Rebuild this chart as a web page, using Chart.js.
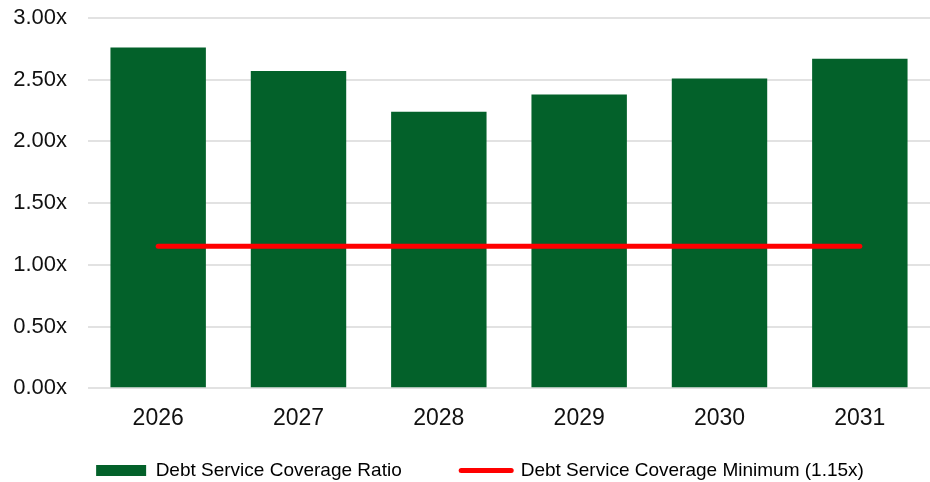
<!DOCTYPE html>
<html>
<head>
<meta charset="utf-8">
<script src="https://cdn.jsdelivr.net/npm/chart.js@4"></script>
<style>
  html, body { margin: 0; padding: 0; background: #fff; }
  #wrap { width: 930px; height: 482px; }
</style>
</head>
<body>
<div id="wrap"><canvas id="dscrChart"></canvas></div>
<script>
// Data
var years = ['2026', '2027', '2028', '2029', '2030', '2031'];
var coverageRatio = [2.76, 2.57, 2.24, 2.38, 2.51, 2.67];
var coverageMinimum = [1.15, 1.15, 1.15, 1.15, 1.15, 1.15];

var GREEN = '#03612a';
var RED = '#ff0000';
var FONT = '"Liberation Sans", Arial, sans-serif';

// legend in the reference sits a little right of centre (under the plot)
var legendShift = {
    id: 'legendShift',
    afterLayout: function (chart) {
        chart.legend.left += 30;
    }
};

var ctx = document.getElementById('dscrChart').getContext('2d');
var dscrChart = new Chart(ctx, {
    type: 'bar',
    data: {
        labels: years,
        datasets: [{
            type: 'line',
            label: 'Debt Service Coverage Minimum (1.15x)',
            data: coverageMinimum,
            borderColor: RED,
            backgroundColor: RED,
            borderWidth: 5,
            borderCapStyle: 'round',
            pointRadius: 0,
            order: 0
        }, {
            label: 'Debt Service Coverage Ratio',
            data: coverageRatio,
            backgroundColor: GREEN,
            categoryPercentage: 1,
            barPercentage: 0.68,
            order: 1
        }]
    },
    plugins: [legendShift],
    options: {
        responsive: true,
        maintainAspectRatio: false,
        animation: false,
        layout: { padding: { top: 18, left: 0, right: 0, bottom: -8 } },
        plugins: {
            tooltip: { enabled: false },
            legend: {
                position: 'bottom',
                labels: {
                    usePointStyle: true,
                    pointStyleWidth: 50,
                    boxHeight: 11,
                    padding: 12,
                    color: '#111',
                    font: { family: FONT, size: 19 },
                    generateLabels: function (chart) {
                        var ds = chart.data.datasets;
                        return [{
                            // trailing spaces widen the gap before the next entry
                            text: ds[1].label + '\u2003\u2003\u2002',
                            fillStyle: GREEN,
                            strokeStyle: GREEN,
                            lineWidth: 0,
                            pointStyle: 'rect',
                            datasetIndex: 1
                        }, {
                            text: ds[0].label,
                            fillStyle: RED,
                            strokeStyle: RED,
                            lineWidth: 5,
                            lineCap: 'round',
                            pointStyle: 'line',
                            datasetIndex: 0
                        }];
                    }
                }
            }
        },
        scales: {
            x: {
                grid: { display: false, drawTicks: false },
                border: { display: false },
                ticks: {
                    padding: 20,
                    color: '#111',
                    font: { family: FONT, size: 23, lineHeight: 0.9 }
                }
            },
            y: {
                min: 0,
                max: 3,
                border: { display: false },
                grid: {
                    color: '#e2e2e2',
                    lineWidth: 2,
                    drawTicks: true,
                    tickLength: 21,
                    tickColor: 'rgba(0,0,0,0)'
                },
                afterFit: function (scale) { scale.width = 88; },
                ticks: {
                    stepSize: 0.5,
                    padding: 0,
                    color: '#111',
                    font: { family: FONT, size: 22, lineHeight: 0.8 },
                    callback: function (v) { return v.toFixed(2) + 'x'; }
                }
            }
        }
    }
});
</script>
</body>
</html>
